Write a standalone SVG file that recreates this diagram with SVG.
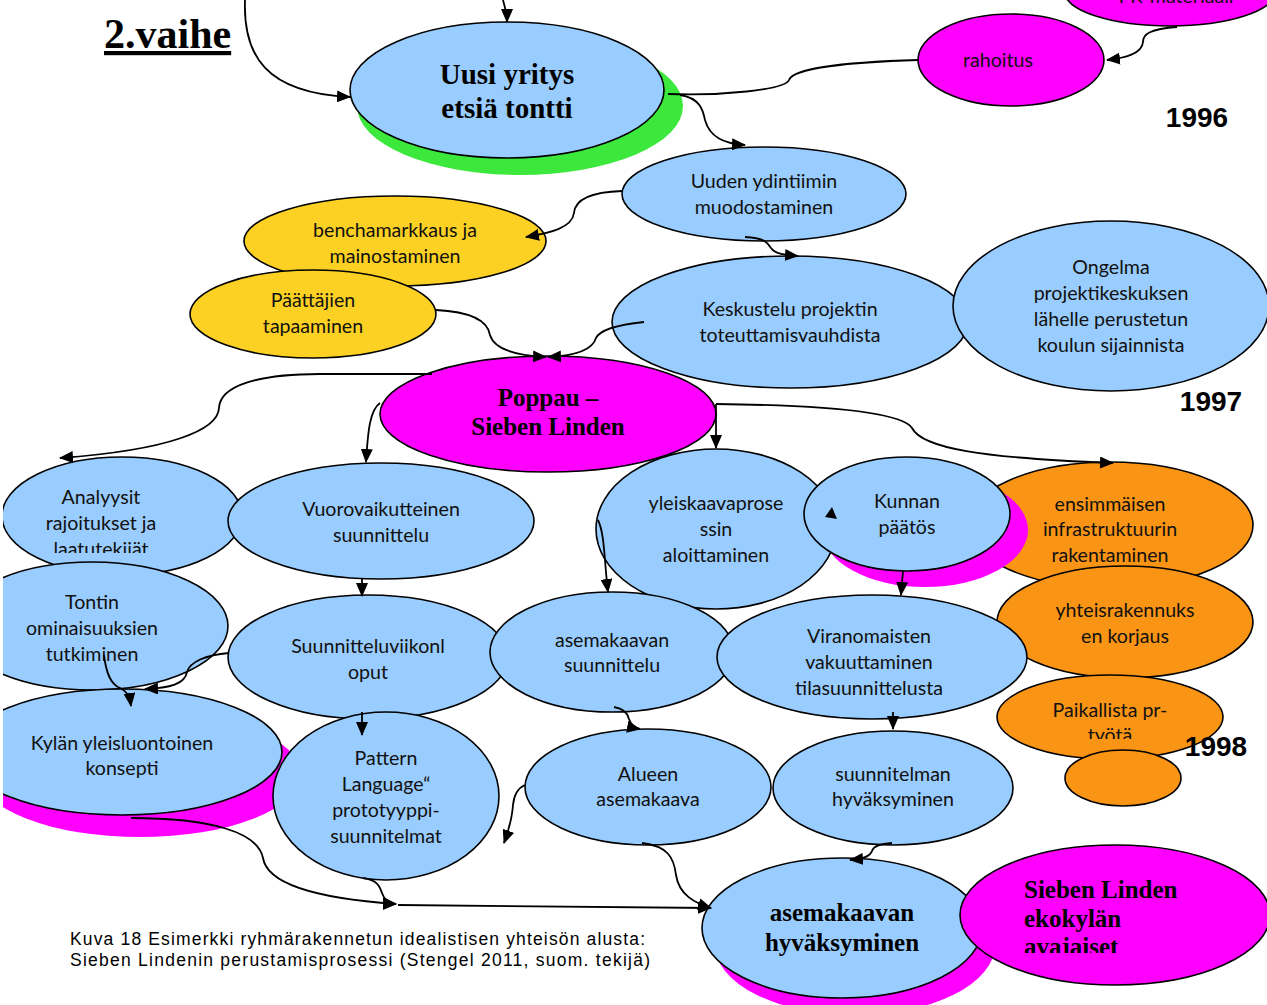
<svg xmlns="http://www.w3.org/2000/svg" width="1267" height="1005" viewBox="0 0 1267 1005">
<style>
.blue{fill:#99CCFF;stroke:#000;stroke-width:1.6}
.mag{fill:#FF00FF;stroke:#000;stroke-width:1.6}
.yel{fill:#FDD123;stroke:#000;stroke-width:1.6}
.org{fill:#FA9415;stroke:#000;stroke-width:1.6}
.shm{fill:#FF00FF}
.shg{fill:#3CE83C}
.t{font-family:Lato,"Liberation Sans",sans-serif;font-size:19.6px;fill:#111;text-anchor:middle}
.b{font-family:"Liberation Serif","Times New Roman",serif;font-weight:bold;fill:#000}
.yr{font-family:"Liberation Sans",Arial,sans-serif;font-weight:bold;font-size:28px;fill:#000;text-anchor:middle}
.c{fill:none;stroke:#000;stroke-width:1.8}
.cap{font-family:"Liberation Sans",Arial,sans-serif;font-size:17.5px;fill:#000}
</style>
<defs>
<marker id="ah" markerUnits="userSpaceOnUse" markerWidth="14" markerHeight="12" viewBox="0 0 14 12" refX="13" refY="6" orient="auto">
<path d="M0,0 L14,6 L0,12 z" fill="#000"/>
</marker>
<clipPath id="page"><rect x="3" y="0" width="1264" height="1005"/></clipPath>
<clipPath id="clipAna"><rect x="0" y="470" width="250" height="83"/></clipPath>
<clipPath id="clipPai"><rect x="990" y="690" width="240" height="49"/></clipPath>
<clipPath id="clipSie"><rect x="1000" y="870" width="260" height="83"/></clipPath>
</defs>
<rect width="1267" height="1005" fill="#fff"/>
<g clip-path="url(#page)">

<text x="104" y="48" class="b" font-size="42" text-decoration="underline">2.vaihe</text>

<g id="node-pr">
<ellipse cx="1170" cy="-8" rx="105" ry="34" class="mag"/>
<text x="1176" y="3" class="t">PR-materiaali</text>
</g>

<g id="node-uusi">
<ellipse cx="520" cy="106" rx="163" ry="69" class="shg"/>
<ellipse cx="507" cy="90" rx="157" ry="68" class="blue"/>
<text x="507" y="84" class="b" font-size="29" text-anchor="middle">Uusi yritys</text>
<text x="507" y="118" class="b" font-size="29" text-anchor="middle">etsiä tontti</text>
</g>

<g id="node-rahoitus">
<ellipse cx="1011" cy="60" rx="93" ry="46" class="mag"/>
<text x="998" y="67" class="t">rahoitus</text>
</g>

<text x="1197" y="127" class="yr">1996</text>

<g id="node-uuden">
<ellipse cx="764" cy="194" rx="142" ry="47" class="blue"/>
<text x="764" y="188" class="t">Uuden ydintiimin</text>
<text x="764" y="214" class="t">muodostaminen</text>
</g>

<g id="node-bench">
<ellipse cx="395" cy="241" rx="151" ry="45" class="yel"/>
<text x="395" y="237" class="t">benchamarkkaus ja</text>
<text x="395" y="263" class="t">mainostaminen</text>
</g>

<g id="node-paattajien">
<ellipse cx="313" cy="314" rx="123" ry="44" class="yel"/>
<text x="313" y="307" class="t">Päättäjien</text>
<text x="313" y="333" class="t">tapaaminen</text>
</g>

<g id="node-keskustelu">
<ellipse cx="790" cy="322" rx="178" ry="66" class="blue"/>
<text x="790" y="316" class="t">Keskustelu projektin</text>
<text x="790" y="342" class="t">toteuttamisvauhdista</text>
</g>

<g id="node-ongelma">
<ellipse cx="1111" cy="306" rx="158" ry="85" class="blue"/>
<text x="1111" y="274" class="t">Ongelma</text>
<text x="1111" y="300" class="t">projektikeskuksen</text>
<text x="1111" y="326" class="t">lähelle perustetun</text>
<text x="1111" y="352" class="t">koulun sijainnista</text>
</g>

<text x="1211" y="411" class="yr">1997</text>

<g id="node-poppau">
<ellipse cx="548" cy="414" rx="168" ry="58" class="mag"/>
<text x="548" y="406" class="b" font-size="25" text-anchor="middle">Poppau –</text>
<text x="548" y="435" class="b" font-size="25" text-anchor="middle">Sieben Linden</text>
</g>

<g id="node-analyysit">
<ellipse cx="122" cy="516" rx="120" ry="59" class="blue"/>
<g clip-path="url(#clipAna)">
<text x="101" y="504" class="t">Analyysit</text>
<text x="101" y="530" class="t">rajoitukset ja</text>
<text x="101" y="556" class="t">laatutekijät</text>
</g>
</g>

<g id="node-vuoro">
<ellipse cx="381" cy="521" rx="153" ry="58" class="blue"/>
<text x="381" y="516" class="t">Vuorovaikutteinen</text>
<text x="381" y="542" class="t">suunnittelu</text>
</g>

<g id="node-yleiskaava">
<ellipse cx="716" cy="529" rx="120" ry="80" class="blue"/>
<text x="716" y="510" class="t">yleiskaavaprose</text>
<text x="716" y="536" class="t">ssin</text>
<text x="716" y="562" class="t">aloittaminen</text>
</g>

<g id="node-ensimmaisen">
<ellipse cx="1110" cy="525" rx="143" ry="63" class="org"/>
<text x="1110" y="511" class="t">ensimmäisen</text>
<text x="1110" y="536" class="t">infrastruktuurin</text>
<text x="1110" y="562" class="t">rakentaminen</text>
</g>

<g id="node-kunnan">
<ellipse cx="925" cy="530" rx="103" ry="57" class="shm"/>
<ellipse cx="907" cy="514" rx="103" ry="57" class="blue"/>
<text x="907" y="508" class="t">Kunnan</text>
<text x="907" y="534" class="t">päätös</text>
<polygon points="832,507 825,517 837,519" fill="#000"/>
</g>

<g id="node-yhteis">
<ellipse cx="1125" cy="622" rx="128" ry="56" class="org"/>
<text x="1125" y="617" class="t">yhteisrakennuks</text>
<text x="1125" y="643" class="t">en korjaus</text>
</g>

<g id="node-paikallista">
<ellipse cx="1110" cy="717" rx="113" ry="42" class="org"/>
<g clip-path="url(#clipPai)">
<text x="1110" y="717" class="t">Paikallista pr-</text>
<text x="1110" y="742" class="t">työtä</text>
</g>
</g>

<g id="node-small-orange">
<ellipse cx="1123" cy="778" rx="58" ry="28" class="org"/>
</g>

<text x="1216" y="756" class="yr">1998</text>

<g id="node-tontin">
<ellipse cx="92" cy="626" rx="136" ry="64" class="blue"/>
<text x="92" y="609" class="t">Tontin</text>
<text x="92" y="635" class="t">ominaisuuksien</text>
<text x="92" y="661" class="t">tutkiminen</text>
</g>

<g id="node-suunnitteluviikonloput">
<ellipse cx="368" cy="657" rx="140" ry="62" class="blue"/>
<text x="368" y="653" class="t">Suunnitteluviikonl</text>
<text x="368" y="679" class="t">oput</text>
</g>

<g id="node-asemakaavan-suunnittelu">
<ellipse cx="612" cy="652" rx="122" ry="60" class="blue"/>
<text x="612" y="647" class="t">asemakaavan</text>
<text x="612" y="672" class="t">suunnittelu</text>
</g>

<g id="node-viranomaisten">
<ellipse cx="872" cy="657" rx="155" ry="62" class="blue"/>
<text x="869" y="643" class="t">Viranomaisten</text>
<text x="869" y="669" class="t">vakuuttaminen</text>
<text x="869" y="695" class="t">tilasuunnittelusta</text>
</g>

<g id="node-kylan">
<ellipse cx="140" cy="774" rx="161" ry="63" class="shm"/>
<ellipse cx="122" cy="752" rx="160" ry="63" class="blue"/>
<text x="122" y="750" class="t">Kylän yleisluontoinen</text>
<text x="122" y="775" class="t">konsepti</text>
</g>

<g id="node-pattern">
<ellipse cx="386" cy="796" rx="113" ry="84" class="blue"/>
<text x="386" y="765" class="t">Pattern</text>
<text x="386" y="791" class="t">Language“</text>
<text x="386" y="817" class="t">prototyyppi-</text>
<text x="386" y="843" class="t">suunnitelmat</text>
</g>

<g id="node-alueen">
<ellipse cx="648" cy="787" rx="123" ry="58" class="blue"/>
<text x="648" y="781" class="t">Alueen</text>
<text x="648" y="806" class="t">asemakaava</text>
</g>

<g id="node-suunnitelman">
<ellipse cx="893" cy="788" rx="120" ry="57" class="blue"/>
<text x="893" y="781" class="t">suunnitelman</text>
<text x="893" y="806" class="t">hyväksyminen</text>
</g>

<g id="node-asemakaavan-hyv">
<ellipse cx="855" cy="945" rx="140" ry="70" class="shm"/>
<ellipse cx="842" cy="928" rx="140" ry="70" class="blue"/>
<text x="842" y="921" class="b" font-size="25" text-anchor="middle">asemakaavan</text>
<text x="842" y="951" class="b" font-size="25" text-anchor="middle">hyväksyminen</text>
</g>

<g id="node-avajaiset">
<ellipse cx="1115" cy="915" rx="155" ry="70" class="mag"/>
<g clip-path="url(#clipSie)">
<text x="1024" y="898" class="b" font-size="25">Sieben Linden</text>
<text x="1024" y="927" class="b" font-size="25">ekokylän</text>
<text x="1024" y="955" class="b" font-size="25">avajaiset</text>
</g>
</g>

<g id="connectors">
<path class="c" d="M503,0 C505,8 507,13 507,22" marker-end="url(#ah)"/>
<path class="c" d="M245,0 C243,55 265,93 350,97" marker-end="url(#ah)"/>
<path class="c" d="M668,94 C720,96 785,90 789,80 C793,68 850,62 918,60"/>
<path class="c" d="M680,95 C700,98 703,110 705,120 C710,138 725,144 745,145" marker-end="url(#ah)"/>
<path class="c" d="M1177,27 C1150,29 1143,34 1143,42 C1142,54 1125,58 1107,60" marker-end="url(#ah)"/>
<path class="c" d="M622,191 C590,192 575,200 574,213 C572,228 550,233 526,237" marker-end="url(#ah)"/>
<path class="c" d="M745,237 C765,238 768,243 771,248 C775,254 785,255 798,256" marker-end="url(#ah)"/>
<path class="c" d="M436,310 C475,312 488,322 490,335 C495,352 525,356 546,357" marker-end="url(#ah)"/>
<path class="c" d="M644,322 C615,325 600,330 596,338 C592,352 570,356 548,357" marker-end="url(#ah)"/>
<path class="c" d="M432,374 L320,374 C260,374 220,385 219,408 C218,430 170,450 60,458" marker-end="url(#ah)"/>
<path class="c" d="M380,403 C370,410 368,430 366,462" marker-end="url(#ah)"/>
<path class="c" d="M716,404 L716,448" marker-end="url(#ah)"/>
<path class="c" d="M716,404 C800,405 900,410 912,428 C922,448 980,458 1113,463" marker-end="url(#ah)"/>
<path class="c" d="M598,520 C605,535 604,560 608,592" marker-end="url(#ah)"/>
<path class="c" d="M903,571 L901,595" marker-end="url(#ah)"/>
<path class="c" d="M362,579 L362,596" marker-end="url(#ah)"/>
<path class="c" d="M104,655 C106,672 110,684 120,688 C128,692 130,698 131,706" marker-end="url(#ah)"/>
<path class="c" d="M229,653 C205,655 190,662 187,672 C185,684 170,688 145,689" marker-end="url(#ah)"/>
<path class="c" d="M362,712 L362,735" marker-end="url(#ah)"/>
<path class="c" d="M614,707 C625,709 628,714 629,719 C631,725 634,728 640,729" marker-end="url(#ah)"/>
<path class="c" d="M893,712 L893,729" marker-end="url(#ah)"/>
<path class="c" d="M525,785 C518,788 514,795 513,805 C512,820 508,832 504,843" marker-end="url(#ah)"/>
<path class="c" d="M642,843 C668,846 674,858 676,875 C679,895 695,903 711,908" marker-end="url(#ah)"/>
<path class="c" d="M892,843 C878,844 873,847 872,851 C870,857 862,859 850,860" marker-end="url(#ah)"/>
<path class="c" d="M398,905 L711,908" marker-end="url(#ah)"/>
<path class="c" d="M131,818 C210,818 258,832 263,858 C268,890 340,900 396,904" marker-end="url(#ah)"/>
<path class="c" d="M363,878 C378,880 380,887 382,893 C385,902 390,904 396,904" marker-end="url(#ah)"/>
</g>

<text x="70" y="945" class="cap" textLength="575">Kuva 18 Esimerkki ryhmärakennetun idealistisen yhteisön alusta:</text>
<text x="70" y="966" class="cap" textLength="580">Sieben Lindenin perustamisprosessi (Stengel 2011, suom. tekijä)</text>
</g>
</svg>
